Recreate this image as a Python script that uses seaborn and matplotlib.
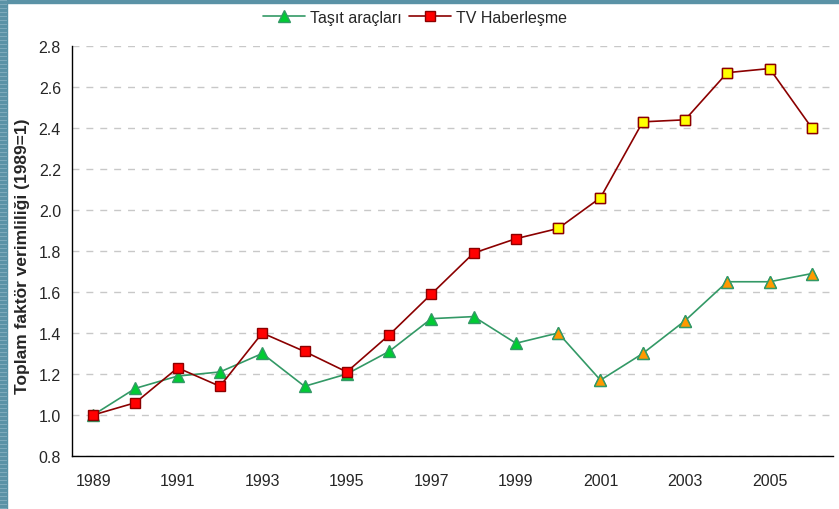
import numpy as np
import pandas as pd
import matplotlib
matplotlib.use("Agg")
import matplotlib.pyplot as plt
import seaborn as sns
from matplotlib.patches import Rectangle
from matplotlib.lines import Line2D

years = list(range(1989, 2007))
tasit = [1.00, 1.13, 1.19, 1.21, 1.30, 1.14, 1.20, 1.31, 1.47, 1.48,
         1.35, 1.40, 1.17, 1.30, 1.46, 1.65, 1.65, 1.69]
tv = [1.00, 1.06, 1.23, 1.14, 1.40, 1.31, 1.21, 1.39, 1.59, 1.79,
      1.86, 1.91, 2.06, 2.43, 2.44, 2.67, 2.69, 2.40]
highlight_from = 2000
series_names = ["Taşıt araçları", "TV Haberleşme"]
y_ticks = [0.8, 1.0, 1.2, 1.4, 1.6, 1.8, 2.0, 2.2, 2.4, 2.6, 2.8]
x_labels = [str(y) for y in range(1989, 2006, 2)]

df = pd.DataFrame({"year": years, "tasit": tasit, "tv": tv})
df["pos"] = np.arange(len(df))
hl = df[df["year"] >= highlight_from]

sns.set_style("white")
plt.rcParams["font.family"] = ["Liberation Sans", "DejaVu Sans"]

fig = plt.figure(figsize=(8.39, 5.10), dpi=100)
ax = fig.add_axes([72 / 839, 1 - 457 / 510, (833 - 72) / 839, (457 - 47) / 510])

green_line = "#339966"
red_line = "#8b0000"

sns.lineplot(data=df, x="pos", y="tasit", ax=ax, color=green_line, lw=1.2,
             marker="^", markersize=8.5, markerfacecolor="#00cc33",
             markeredgecolor=green_line, markeredgewidth=1.0, zorder=3)
sns.lineplot(data=df, x="pos", y="tv", ax=ax, color=red_line, lw=1.2,
             marker="s", markersize=7, markerfacecolor="#ff0000",
             markeredgecolor=red_line, markeredgewidth=1.0, zorder=4)
sns.scatterplot(data=hl, x="pos", y="tasit", ax=ax, marker="^", s=72,
                color="#ff9900", edgecolor=green_line, linewidth=1.0, zorder=5)
sns.scatterplot(data=hl, x="pos", y="tv", ax=ax, marker="s", s=49,
                color="#ffff00", edgecolor=red_line, linewidth=1.0, zorder=6)

ax.set_xlim(-0.5, len(years) - 0.5)
ax.set_ylim(0.8, 2.8)
ax.set_yticks(y_ticks)
ax.set_yticklabels([f"{v:.1f}" for v in y_ticks], fontsize=11.5)
ax.set_xticks(np.arange(-0.5, len(years), 1.0))
ax.set_xticklabels([])
ax.set_xticks(np.arange(0, len(years), 2), minor=True)
ax.set_xticklabels(x_labels, minor=True, fontsize=11.5)
ax.tick_params(axis="x", which="major", direction="out", length=5, width=1, color="black")
ax.tick_params(axis="x", which="minor", length=0, pad=12)
ax.tick_params(axis="y", direction="out", length=5, width=1, color="black", pad=3)
ax.yaxis.grid(True, color="#c8c8c8", linestyle=(0, (5, 5)), lw=1)
ax.set_axisbelow(True)
for s in ["top", "right"]:
    ax.spines[s].set_visible(False)
for s in ["left", "bottom"]:
    ax.spines[s].set_color("black")
    ax.spines[s].set_linewidth(1)
ax.set_xlabel("")
ax.set_ylabel("Toplam faktör verimliliği (1989=1)", fontsize=12.5, fontweight="bold")
ax.yaxis.set_label_coords(-0.055, 0.49)

handles = [
    Line2D([], [], color=green_line, lw=1.2, marker="^", markersize=8.5,
           markerfacecolor="#00cc33", markeredgecolor=green_line),
    Line2D([], [], color=red_line, lw=1.2, marker="s", markersize=7,
           markerfacecolor="#ff0000", markeredgecolor=red_line),
]
fig.legend(handles, series_names, loc="center", bbox_to_anchor=(415 / 839, 1 - 18 / 510),
           ncol=2, frameon=False, fontsize=11.5, handlelength=2.6, columnspacing=0.5,
           handletextpad=0.3)

# frame decoration: teal strip along top and striped strip on the left
fig.patches.append(Rectangle((0, 1 - 4 / 510), 1, 4 / 510, transform=fig.transFigure,
                             color="#5a92a6", zorder=0))
fig.patches.append(Rectangle((0, 0), 7 / 839, 1, transform=fig.transFigure,
                             color="#5a92a6", zorder=0))
for yy in range(0, 510, 4):
    fig.patches.append(Rectangle((0, yy / 510), 7 / 839, 1.5 / 510, transform=fig.transFigure,
                                 color="#7eaabb", zorder=0, lw=0))

fig.savefig("out.png", dpi=100)
